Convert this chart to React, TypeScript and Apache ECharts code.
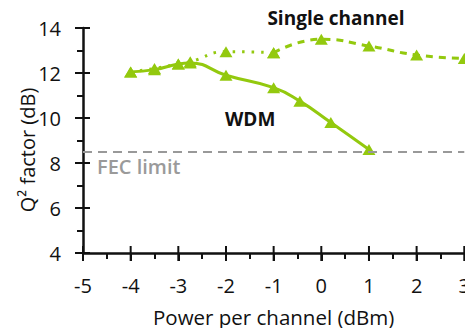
import React, { useEffect, useRef } from "react";
import * as echarts from "echarts";

// Launch power per channel (dBm) and measured Q² factor (dB)
const wdmPower = [-4, -3.5, -3, -2.75, -2, -1, -0.45, 0.2, 1];
const wdmQ = [12.05, 12.15, 12.4, 12.45, 11.9, 11.35, 10.75, 9.8, 8.6];

const singlePowerLow = [-4, -3.5, -3, -2.75, -2, -1];
const singleQLow = [12.05, 12.2, 12.4, 12.5, 12.95, 12.9];
const singlePowerHigh = [-1, 0, 1, 2, 3];
const singleQHigh = [12.9, 13.5, 13.2, 12.8, 12.65];

const fecLimit = 8.5;

// axis ranges and major tick values
const xMin = -5;
const xMax = 3;
const yMin = 4;
const yMax = 14;
const xTicks = [-5, -4, -3, -2, -1, 0, 1, 2, 3];
const yTicks = [4, 6, 8, 10, 12, 14];

const GREEN = "#93c90e";
const FONT = "Open Sans";
const INK = "#111";

const W = 473;
const H = 336;
const GRID = { left: 83, right: 4, top: 28, bottom: 83 };

const pairs = (xs: number[], ys: number[]) => xs.map((x, i) => [x, ys[i]]);

const labels = [
  {
    type: "text",
    x: 27,
    y: 150,
    rotation: Math.PI / 2,
    style: {
      text: "Q² factor (dB)",
      fill: INK,
      font: `20px "${FONT}"`,
      align: "center",
      verticalAlign: "middle",
    },
  },
  {
    type: "text",
    x: 336,
    y: 18,
    style: {
      text: "Single channel",
      fill: INK,
      font: `bold 19px "${FONT}"`,
      align: "center",
      verticalAlign: "middle",
    },
  },
  {
    type: "text",
    x: 225,
    y: 119,
    style: {
      text: "WDM",
      fill: INK,
      font: `bold 19px "${FONT}"`,
      align: "left",
      verticalAlign: "middle",
    },
  },
  {
    type: "text",
    x: 97,
    y: 166,
    style: {
      text: "FEC limit",
      fill: "#9a9a9a",
      font: `600 20px "${FONT}"`,
      align: "left",
      verticalAlign: "middle",
    },
  },
];

export default function App() {
  const ref = useRef<HTMLDivElement>(null);

  useEffect(() => {
    if (!ref.current) return;
    const chart = echarts.init(ref.current, undefined, { renderer: "svg" });

    chart.setOption({
      animation: false,
      backgroundColor: "#fff",
      grid: GRID,
      xAxis: {
        type: "value",
        min: xMin,
        max: xMax,
        interval: 1,
        splitLine: { show: false },
        axisLine: { show: true, onZero: false, lineStyle: { color: INK, width: 2.5 } },
        axisTick: { show: true, length: 8, lineStyle: { color: INK, width: 2 } },
        minorTick: { show: true, splitNumber: 2, length: 6, lineStyle: { color: INK, width: 2 } },
        axisLabel: { color: INK, fontFamily: FONT, fontSize: 20, margin: 22 },
        name: "Power per channel (dBm)",
        nameLocation: "middle",
        nameGap: 53,
        nameTextStyle: { color: INK, fontFamily: FONT, fontSize: 20.5 },
      },
      yAxis: {
        type: "value",
        min: yMin,
        max: yMax,
        interval: 2,
        splitLine: { show: false },
        axisLine: { show: true, onZero: false, lineStyle: { color: INK, width: 2.5 } },
        axisTick: { show: true, length: 8, lineStyle: { color: INK, width: 2 } },
        minorTick: { show: true, splitNumber: 2, length: 6, lineStyle: { color: INK, width: 2 } },
        axisLabel: { color: INK, fontFamily: FONT, fontSize: 20, margin: 22 },
      },
      graphic: labels,
      series: [
        {
          name: "FEC limit",
          type: "line",
          data: [],
          markLine: {
            silent: true,
            symbol: "none",
            label: { show: false },
            lineStyle: { color: "#999", width: 2, type: [9, 6] },
            data: [{ yAxis: fecLimit }],
          },
        },
        {
          name: "WDM",
          type: "line",
          data: pairs(wdmPower, wdmQ),
          smooth: 0.5,
          symbol: "triangle",
          symbolSize: [13, 11],
          lineStyle: { color: GREEN, width: 3 },
          itemStyle: { color: GREEN },
          z: 3,
        },
        {
          name: "Single channel",
          type: "line",
          data: pairs(singlePowerLow, singleQLow),
          smooth: 0.5,
          symbol: "triangle",
          symbolSize: [13, 11],
          lineStyle: { color: GREEN, width: 3, type: [2.5, 7] },
          itemStyle: { color: GREEN },
          z: 3,
        },
        {
          name: "Single channel",
          type: "line",
          data: pairs(singlePowerHigh, singleQHigh),
          smooth: 0.5,
          symbol: "triangle",
          symbolSize: [13, 11],
          lineStyle: { color: GREEN, width: 3, type: [7, 6] },
          itemStyle: { color: GREEN },
          z: 3,
        },
      ],
    });

    // Major ticks crossing both axis lines, placed through the grid's own scales
    const tickStyle = { stroke: INK, lineWidth: 2 };
    const ticks: any[] = [];
    xTicks.forEach((v) => {
      const p = chart.convertToPixel({ gridIndex: 0 }, [v, yMin]) as number[];
      ticks.push({
        type: "line",
        silent: true,
        z: 100,
        shape: { x1: p[0], y1: p[1] - 7, x2: p[0], y2: p[1] + 8 },
        style: tickStyle,
      });
    });
    yTicks.forEach((v) => {
      const p = chart.convertToPixel({ gridIndex: 0 }, [xMin, v]) as number[];
      ticks.push({
        type: "line",
        silent: true,
        z: 100,
        shape: { x1: p[0] - 8, y1: p[1], x2: p[0] + 7, y2: p[1] },
        style: tickStyle,
      });
    });
    chart.setOption({ graphic: [...labels, ...ticks] });

    return () => chart.dispose();
  }, []);

  return <div ref={ref} style={{ width: W, height: H, margin: -8 }} />;
}
